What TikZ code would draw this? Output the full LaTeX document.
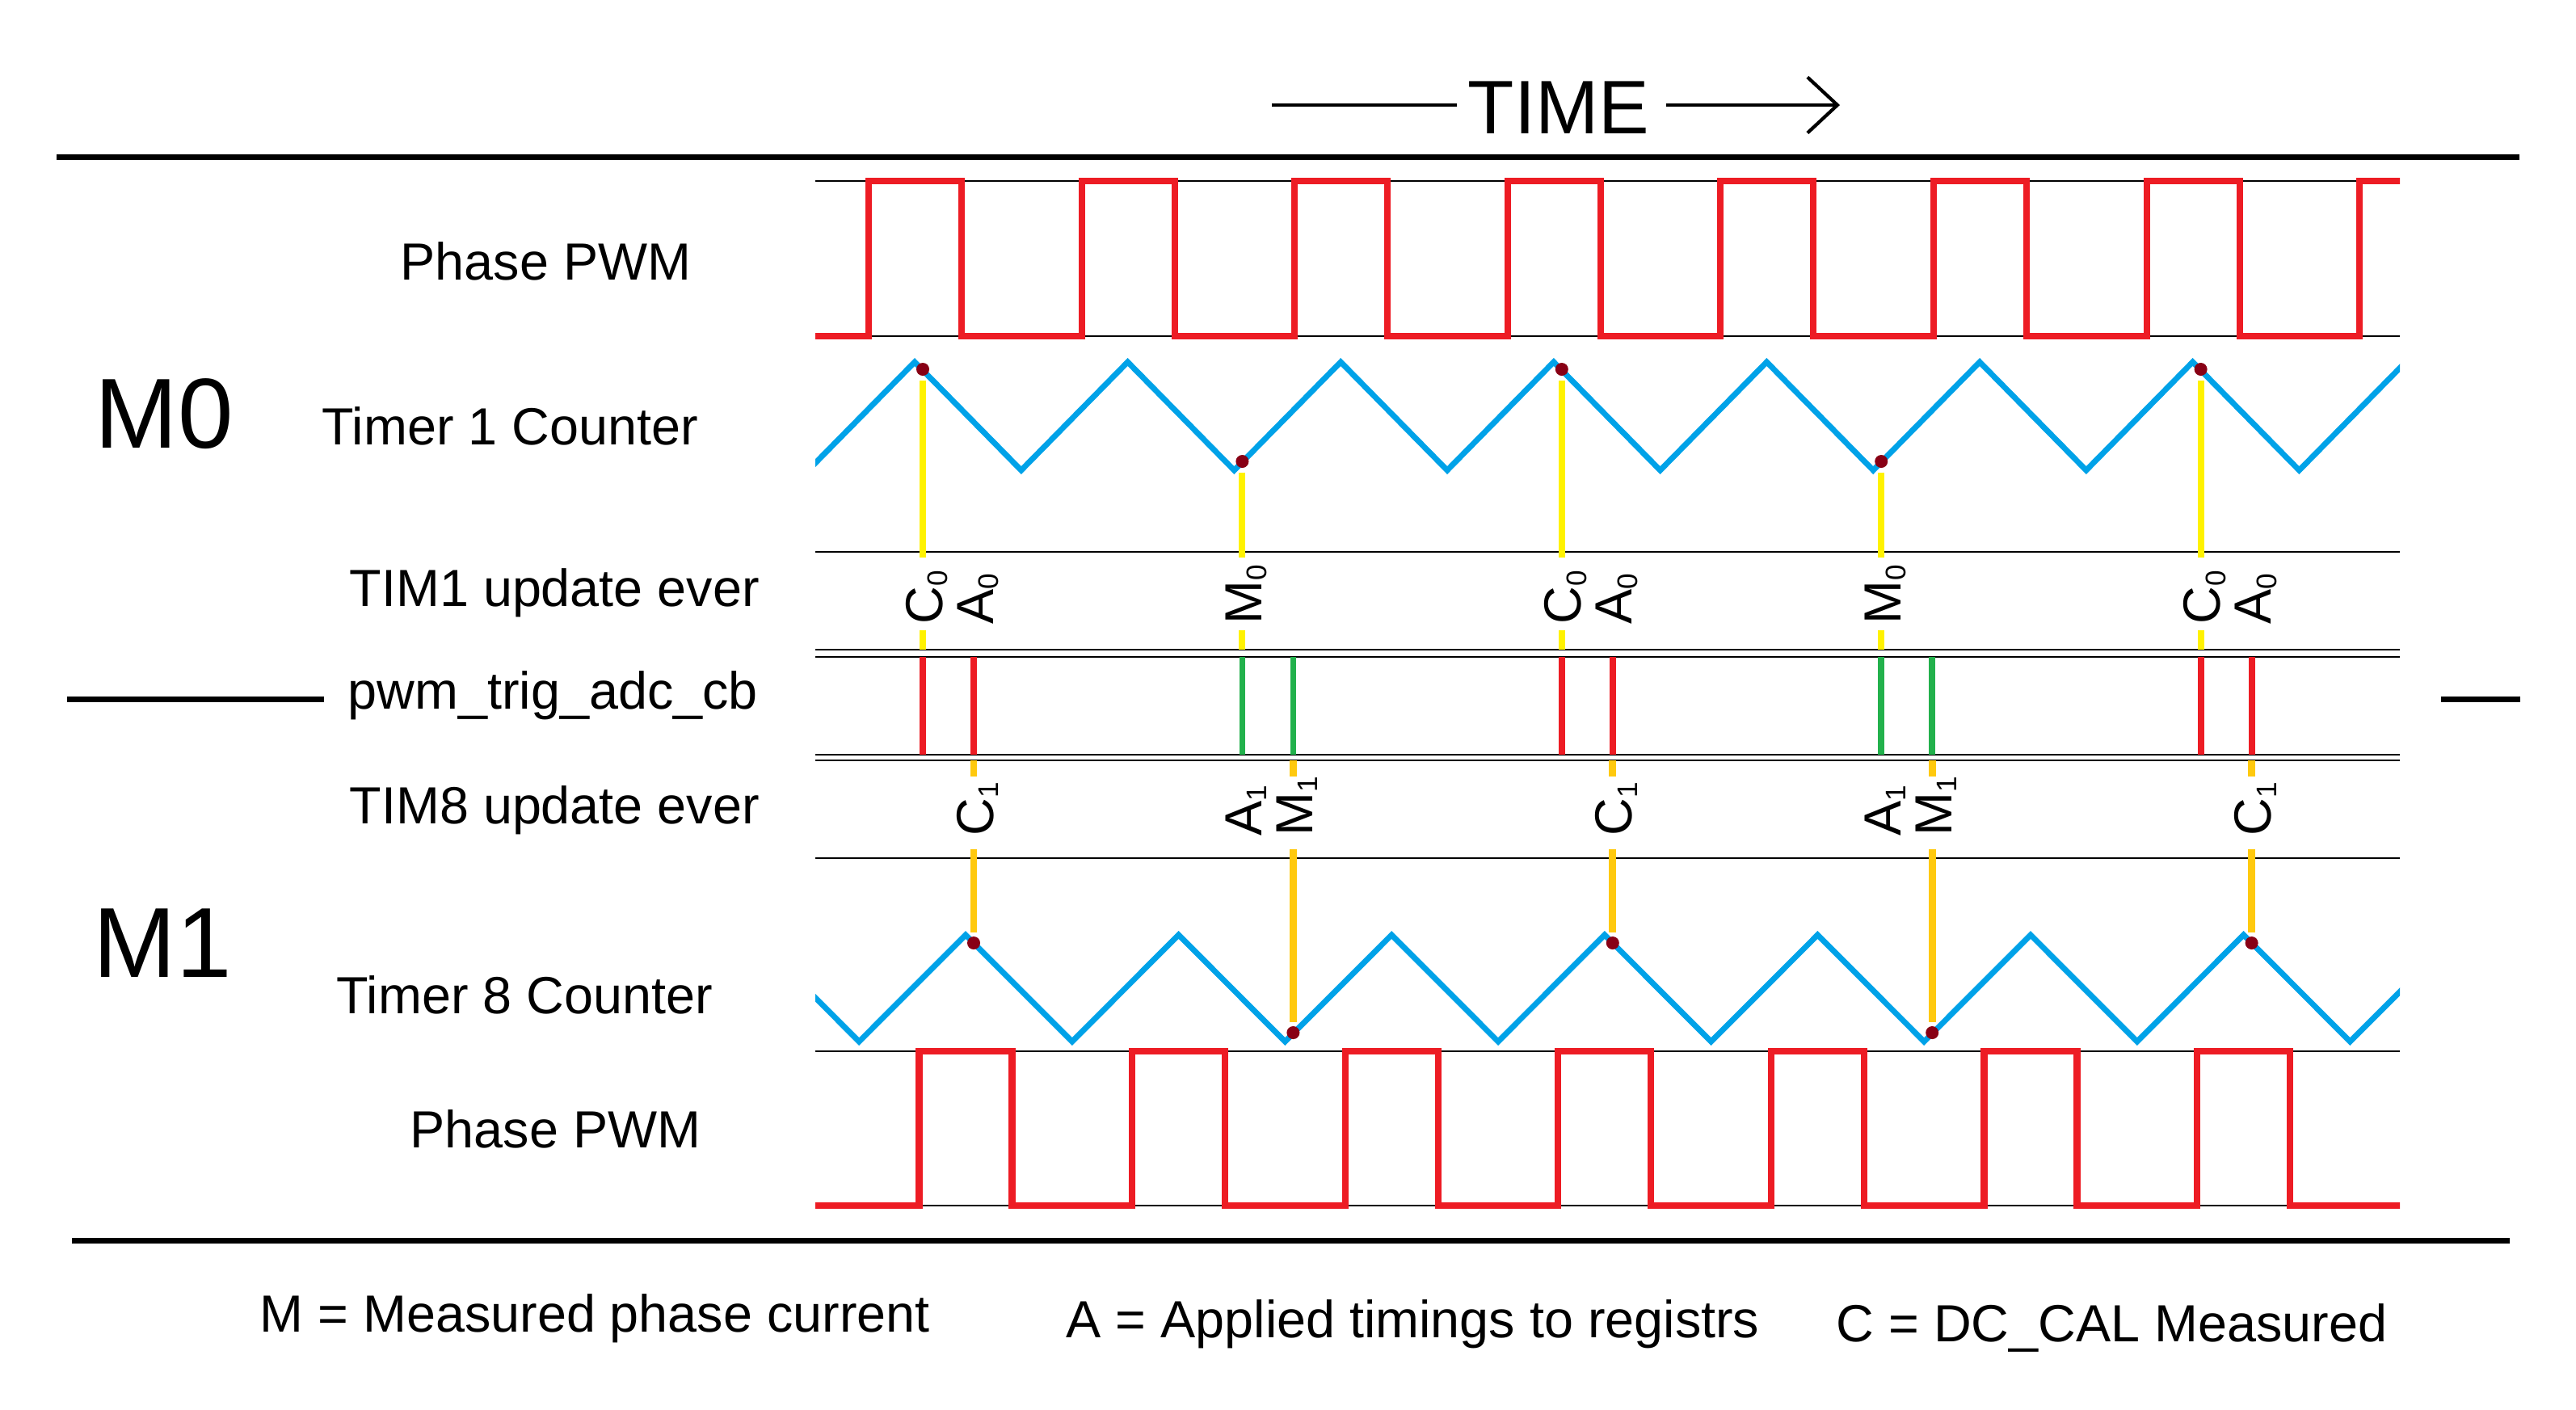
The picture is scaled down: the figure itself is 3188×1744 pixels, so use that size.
\documentclass[tikz,border=0pt]{standalone}
\usepackage{fontspec}
\setmainfont{Liberation Sans}
\usetikzlibrary{arrows.meta}

\definecolor{pwmred}{HTML}{ED1C24}
\definecolor{cntblue}{HTML}{00A2E8}
\definecolor{trggreen}{HTML}{22B14C}
\definecolor{evyellow}{HTML}{FFF200}
\definecolor{evorange}{HTML}{FFC90E}
\definecolor{dotred}{HTML}{880015}

\newcommand{\lblfont}{\fontsize{18.4}{22}\selectfont}
\newcommand{\bigfont}{\fontsize{35}{40}\selectfont}
\newcommand{\timefont}{\fontsize{26.7}{32}\selectfont}
\newcommand{\evsub}[1]{\raisebox{-0.065cm}{\fontsize{10}{12}\selectfont #1}}

\begin{document}
\begin{tikzpicture}[x=0.01cm, y=-0.01cm,
    >={Straight Barb[length=0.37cm,width=0.69cm]},
    lbl/.style={font=\lblfont, anchor=base west, inner sep=0pt},
    evlbl/.style={font=\lblfont, anchor=base west, inner sep=0pt, rotate=90},
    heavy/.style={line width=2pt},
    thinln/.style={line width=0.75pt},
    pwm/.style={pwmred, line width=2.3pt},
    cnt/.style={cntblue, line width=2pt},
    trigln/.style={line width=2.2pt},
    yel/.style={evyellow, line width=2.3pt},
    orn/.style={evorange, line width=2.5pt},
    evdot/.style={circle, fill=dotred, minimum size=0.16cm, inner sep=0pt}]
    \useasboundingbox (0,0) rectangle (3188,1744);

    % Title
    \node[font=\timefont, anchor=base west, inner sep=0pt] (timelbl) at (1816,165) {TIME};
    \coordinate (tstart) at (1574,130);
    \coordinate (tend) at (2277,130);
    \draw[line width=1.2pt, shorten >=0.13cm] (tstart) -- (tstart -| timelbl.west);
    \draw[line width=1.2pt, shorten <=0.2cm, ->] (tend -| timelbl.east) -- (tend);

    % Frame lines
    \draw[heavy] (70,194) -- (3118,194);
    \draw[heavy] (89,1535) -- (3106,1535);
    \draw[heavy] (83,865) -- (401,865);
    \draw[heavy] (3021,865) -- (3119,865);

    % Row labels
    \node[font=\bigfont, anchor=base west, inner sep=0pt] (mzero) at (117,554) {M0};
    \node[font=\bigfont, anchor=base west, inner sep=0pt] (mone) at (115,1209) {M1};
    \node[lbl] (pwmA) at (495,346) {Phase PWM};
    \node[lbl] (cntA) at (398,550) {Timer 1 Counter};
    \node[lbl] (updA) at (432,750) {TIM1 update ever};
    \node[lbl] (trig) at (430,877) {pwm\_trig\_adc\_cb};
    \node[lbl] (updB) at (432,1019) {TIM8 update ever};
    \node[lbl] (cntB) at (416,1254) {Timer 8 Counter};
    \node[lbl] (pwmB) at (507,1420) {Phase PWM};

    % Legend
    \node[lbl] (legM) at (321,1648) {M = Measured phase current};
    \node[lbl] (legA) at (1319,1655) {A = Applied timings to registrs};
    \node[lbl] (legC) at (2272,1660) {C = DC\_CAL Measured};

    % Row lines
    \foreach \y in {224,416,683,804,813,934,941,1062,1301,1492}
        \draw[thinln] (1009,\y) -- (2970,\y);

    % Levels for the event marks
    \coordinate (cutA) at (0,690);
    \coordinate (cutB) at (0,780);
    \coordinate (trigA) at (0,804);
    \coordinate (trigB) at (0,813);
    \coordinate (trigC) at (0,934);
    \coordinate (trigD) at (0,941);
    \coordinate (cutC) at (0,961);
    \coordinate (cutD) at (0,1051);

    % Waveforms
    \begin{scope}
        \clip (1009,150) rectangle (2970,1520);
        \draw[pwm] (700,416) \foreach \k in {-1,...,7} {
            -- ({1075+263.6*\k},416) -- ({1075+263.6*\k},224)
            -- ({1190+263.6*\k},224) -- ({1190+263.6*\k},416)} -- (3100,416);
        \draw[cnt] (736.6,582) \foreach \k in {-1,...,7} {
            -- ({1132+263.6*\k},448) -- ({1263.8+263.6*\k},582)};
        \draw[cnt] (799.6,1289) \foreach \k in {-1,...,7} {
            -- ({1195+263.6*\k},1157) -- ({1326.8+263.6*\k},1289)};
        \draw[pwm] (700,1492) \foreach \k in {-1,...,7} {
            -- ({1137.5+263.6*\k},1492) -- ({1137.5+263.6*\k},1301)
            -- ({1252.5+263.6*\k},1301) -- ({1252.5+263.6*\k},1492)} -- (3100,1492);
    \end{scope}

    % Events
    \foreach \i in {0,...,4} {
        \pgfmathsetmacro{\xe}{1142+395.4*\i}
        \pgfmathsetmacro{\xf}{\xe+63}
        \ifodd\i
            \node[evdot] (up\i) at (\xe,571) {};
            \node[evdot] (dn\i) at (\xf,1278) {};
            \draw[trigln, trggreen] (up\i |- trigB) -- (up\i |- trigC);
            \draw[trigln, trggreen] (dn\i |- trigB) -- (dn\i |- trigC);
            \node[evlbl] (lm\i) at (\xe+24,773) {M\evsub{0}};
            \node[evlbl] (la\i) at (\xe+24,1035) {A\evsub{1}};
            \node[evlbl] (ln\i) at (\xf+24,1035) {M\evsub{1}};
        \else
            \node[evdot] (up\i) at (\xe,457) {};
            \node[evdot] (dn\i) at (\xf,1167) {};
            \draw[trigln, pwmred] (up\i |- trigB) -- (up\i |- trigC);
            \draw[trigln, pwmred] (dn\i |- trigB) -- (dn\i |- trigC);
            \node[evlbl] (lc\i) at (\xe+24,773) {C\evsub{0}};
            \node[evlbl] (la\i) at (\xf+24,773) {A\evsub{0}};
            \node[evlbl] (ld\i) at (\xf+24,1035) {C\evsub{1}};
        \fi
        \draw[yel, shorten <=0.05cm] (up\i) -- (up\i |- cutA);
        \draw[yel] (up\i |- cutB) -- (up\i |- trigA);
        \draw[orn] (dn\i |- trigD) -- (dn\i |- cutC);
        \draw[orn, shorten >=0.04cm] (dn\i |- cutD) -- (dn\i);
    }
\end{tikzpicture}
\end{document}
